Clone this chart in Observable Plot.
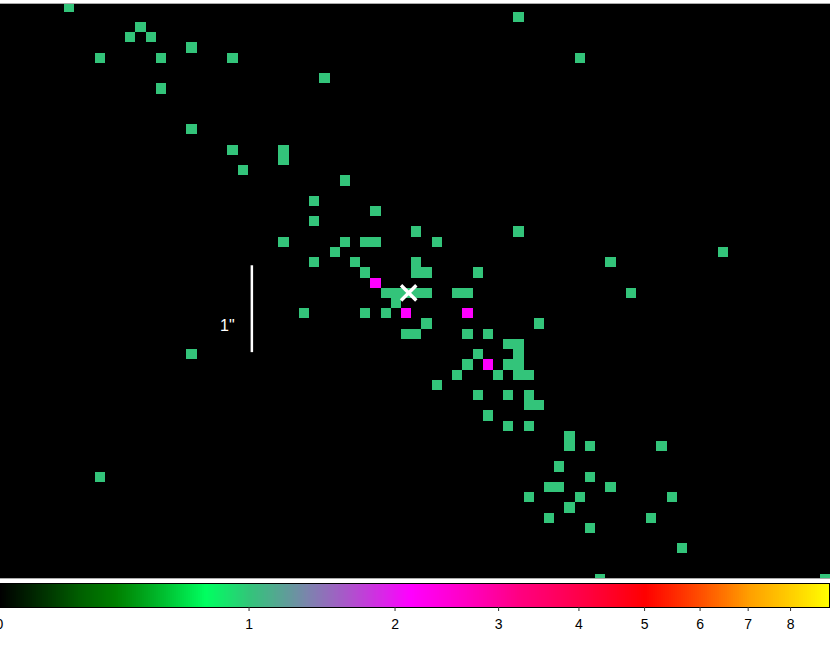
<!DOCTYPE html>
<html>
<head>
<meta charset="utf-8">
<script src="https://cdn.jsdelivr.net/npm/d3@7"></script>
<script src="https://cdn.jsdelivr.net/npm/@observablehq/plot@0.6"></script>
<style>
  html, body { margin: 0; padding: 0; background: #fff; overflow: hidden; }
  svg { display: block; }
</style>
</head>
<body>
<div id="chart"></div>
<script>
// Image pixels, by row index and the column indexes lit in that row
const rowIndex = [0,1,2,3,4,5,7,8,12,14,15,16,17,19,20,21,22,23,24,25,26,28,29,30,31,32,33,34,35,36,37,38,39,40,41,42,43,45,46,47,48,49,50,51,53,56];
const rowColumns = [
  [6],[50],[13],[12,14],[18],[9,15,22,56],[31],[15],[18],[22,27],[27],[23],[33],[30],[36],[30],
  [40,50],[27,33,35,36,42],[32,70],[30,34,40,59],[35,40,41,46],[37,38,39,40,41,44,45,61],[38],
  [29,35,37],[41,52],[39,40,45,47],[49,50],[18,46,50],[45,49,50],[44,48,50,51],[42],[46,49,51],
  [51,52],[47],[49,51],[55],[55,57,64],[54],[9,57],[53,54,59],[51,56,65],[55],[53,63],[57],[66],[58,80]
];
const brightRows = [27,30,30,35];
const brightCols = [36,39,45,47];
const faintValue = 1;
const brightValue = 2.12;

// Source marker and 1-arcsecond scale bar, in image pixel units
const markerCol = [39.2];
const markerRow = [27.95];
const scaleBarCol = [23.85];
const scaleBarRows = [25.3, 33.8];
const scaleBarLabel = ['1"'];
const scaleLabelCol = [21.45];
const scaleLabelRow = [31.15];

// Colour bar
const tickValues = [0,1,2,3,4,5,6,7,8];
const barMax = 9;
const colorStops = [0, 0.25, 0.38, 0.77, 1, 1.37, 2.12, 3.24, 5, 7.03, 9];
const colorValues = ["#000000","#006000","#008000","#00ff60","#33c47a","#8080b0","#ff00ff","#ff0080","#ff0000","#ffa000","#ffff00"];

const colorScale = {type: "linear", domain: colorStops, range: colorValues};
const font = {fontFamily: "'Liberation Sans', Arial, sans-serif", background: "transparent"};

const faint = rowIndex.flatMap((r, i) => rowColumns[i].map(c => ({r, c, v: faintValue})));
const bright = brightRows.map((r, i) => ({r, c: brightCols[i], v: brightValue}));
const pixels = faint.concat(bright);

const image = Plot.plot({
  width: 830, height: 579,
  marginTop: 3, marginBottom: 1, marginLeft: 0, marginRight: 0,
  style: font,
  x: {domain: [-0.754, 80.49], axis: null},
  y: {domain: [-0.362, 55.9], reverse: true, axis: null},
  color: colorScale,
  marks: [
    Plot.frame({fill: "#000", stroke: null, insetLeft: -2, insetRight: -2}),
    Plot.rect(pixels, {
      x1: d => d.c - 0.5, x2: d => d.c + 0.5,
      y1: d => d.r - 0.5, y2: d => d.r + 0.5,
      fill: "v", clip: true, shapeRendering: "crispEdges", inset: 0
    }),
    Plot.ruleY([-0.362, 55.9], {stroke: "#aaa", strokeWidth: 1, insetLeft: -2, insetRight: -2}),
    Plot.ruleX(scaleBarCol, {y1: scaleBarRows[0], y2: scaleBarRows[1], stroke: "#fff", strokeWidth: 2.5}),
    Plot.text(scaleBarLabel, {
      x: () => scaleLabelCol[0], y: () => scaleLabelRow[0], text: d => d,
      fill: "#fff", fontSize: 16
    }),
    Plot.dot(markerCol, {
      x: d => d, y: () => markerRow[0], symbol: "times", r: 7,
      stroke: "#fff", strokeWidth: 3.4
    })
  ]
});

const nSteps = 415;
const barSteps = d3.range(nSteps).map(i => {
  const f = t => 2 ** (t / nSteps * Math.log2(barMax + 1)) - 1;
  return {a: f(i), b: f(i + 1), v: f(i + 0.5)};
});

const bar = Plot.plot({
  width: 830, height: 72,
  marginTop: 4, marginBottom: 44, marginLeft: 0, marginRight: 1,
  style: {...font, fontSize: "14px", color: "#000"},
  x: {type: "symlog", constant: 1, domain: [0, barMax], axis: null},
  y: {domain: [0, 1], axis: null},
  color: colorScale,
  marks: [
    Plot.rect(barSteps, {x1: "a", x2: "b", y1: () => 0, y2: () => 1, fill: "v", shapeRendering: "crispEdges"}),
    Plot.frame({stroke: "#000", strokeWidth: 1}),
    Plot.axisX(tickValues, {tickSize: 4, tickPadding: 8, fontSize: 14, dx: -1, tickFormat: d3.format("d"), stroke: "#333"})
  ]
});

const root = document.getElementById("chart");
root.append(image, bar);
</script>
</body>
</html>
